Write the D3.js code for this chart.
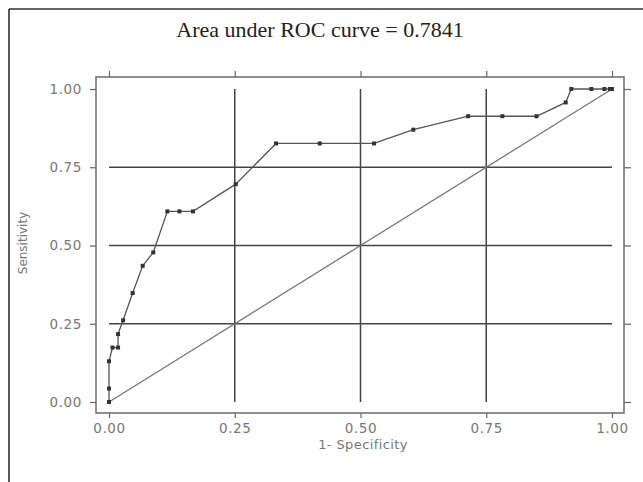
<!DOCTYPE html>
<html>
<head>
<meta charset="utf-8">
<script src="https://cdn.jsdelivr.net/npm/d3@7"></script>
<style>
  body { margin: 0; background: #fff; }
  svg { display: block; }
</style>
</head>
<body>
<svg id="chart"></svg>
<script>
// ROC curve points
const fpr = [0, 0, 0, 0.007, 0.018, 0.018, 0.028, 0.047, 0.067, 0.088, 0.116, 0.140, 0.167, 0.252,
  0.332, 0.419, 0.527, 0.605, 0.714, 0.782, 0.850, 0.908, 0.919, 0.959, 0.985, 0.996, 1];
const tpr = [0, 0.043, 0.130, 0.174, 0.174, 0.217, 0.261, 0.348, 0.435, 0.478, 0.609, 0.609, 0.609, 0.696,
  0.826, 0.826, 0.826, 0.870, 0.913, 0.913, 0.913, 0.957, 1, 1, 1, 1, 1];
const ticks = [0, 0.25, 0.5, 0.75, 1];
const gridTicks = [0.25, 0.5, 0.75];
const title = 'Area under ROC curve = 0.7841';

const W = 643, H = 482;
const sans = 'DejaVu Sans, Verdana, sans-serif';
const svg = d3.select('#chart').attr('width', W).attr('height', H);

// outer frame (top + left only)
svg.append('line').attr('x1', 9).attr('x2', W).attr('y1', 9).attr('y2', 9)
  .attr('stroke', '#666').attr('stroke-width', 2);
svg.append('line').attr('x1', 9).attr('x2', 9).attr('y1', 9).attr('y2', H)
  .attr('stroke', '#222').attr('stroke-width', 1.5);

const box = { left: 96, top: 77, right: 624, bottom: 413 };

const x = d3.scaleLinear().domain([0, 1]).range([109, 612]);
const y = d3.scaleLinear().domain([0, 1]).range([402, 89]);

// grid
svg.append('g').selectAll('line').data(gridTicks).join('line')
  .attr('x1', d => x(d)).attr('x2', d => x(d))
  .attr('y1', y(1)).attr('y2', y(0))
  .attr('stroke', '#444').attr('stroke-width', 1.5);
svg.append('g').selectAll('line').data(gridTicks).join('line')
  .attr('x1', x(0)).attr('x2', x(1))
  .attr('y1', d => y(d)).attr('y2', d => y(d))
  .attr('stroke', '#444').attr('stroke-width', 1.5);

// plot box
svg.append('rect')
  .attr('x', box.left).attr('y', box.top)
  .attr('width', box.right - box.left).attr('height', box.bottom - box.top)
  .attr('fill', 'none').attr('stroke', '#6a6a6a').attr('stroke-width', 1.5);

const styleAxis = g => {
  g.select('.domain').remove();
  g.selectAll('line').attr('stroke', '#666').attr('stroke-width', 1.2);
  g.selectAll('text').attr('fill', '#777')
    .style('font-family', sans).style('font-size', '13.5px').style('letter-spacing', '0.6px');
};

svg.append('g').attr('transform', `translate(${box.left},0)`)
  .call(d3.axisLeft(y).tickValues(ticks).tickFormat(d3.format('.2f')).tickSize(6).tickPadding(8))
  .call(styleAxis);
svg.append('g').attr('transform', `translate(0,${box.bottom})`)
  .call(d3.axisBottom(x).tickValues(ticks).tickFormat(d3.format('.2f')).tickSize(5).tickPadding(5))
  .call(styleAxis);
svg.append('g').attr('transform', `translate(0,${box.top})`)
  .call(d3.axisTop(x).tickValues(ticks).tickFormat('').tickSize(6))
  .call(styleAxis);
svg.append('g').attr('transform', `translate(${box.right},0)`)
  .call(d3.axisRight(y).tickValues(ticks).tickFormat('').tickSize(7))
  .call(styleAxis);

// chance diagonal
svg.append('line')
  .attr('x1', x(0)).attr('y1', y(0)).attr('x2', x(1)).attr('y2', y(1))
  .attr('stroke', '#777').attr('stroke-width', 1.3);

// ROC curve
const pts = fpr.map((f, i) => [f, tpr[i]]);
svg.append('path').datum(pts)
  .attr('d', d3.line().x(d => x(d[0])).y(d => y(d[1])))
  .attr('fill', 'none').attr('stroke', '#555').attr('stroke-width', 1.3);
svg.append('g').selectAll('rect').data(pts).join('rect')
  .attr('x', d => x(d[0]) - 2).attr('y', d => y(d[1]) - 2)
  .attr('width', 4).attr('height', 4)
  .attr('fill', '#333');

// title and axis labels
svg.append('text').attr('x', 320).attr('y', 37).attr('text-anchor', 'middle')
  .style('font-family', 'Liberation Serif, Times New Roman, serif').style('font-size', '22px')
  .attr('fill', '#222').text(title);
svg.append('text').attr('x', 363).attr('y', 449).attr('text-anchor', 'middle')
  .style('font-family', sans).style('font-size', '13px').style('letter-spacing', '0.4px')
  .attr('fill', '#777').text('1- Specificity');
svg.append('text').attr('transform', 'translate(27,243) rotate(-90)').attr('text-anchor', 'middle')
  .style('font-family', sans).style('font-size', '12px')
  .attr('fill', '#777').text('Sensitivity');
</script>
</body>
</html>
